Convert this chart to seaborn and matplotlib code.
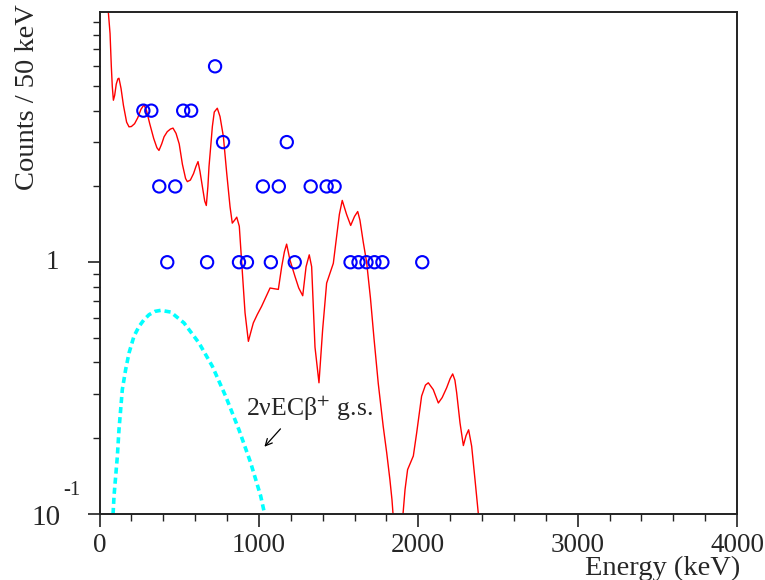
import matplotlib
matplotlib.use("Agg")
import matplotlib.pyplot as plt
import matplotlib.ticker as mticker
import matplotlib.transforms as mtransforms
import numpy as np
import pandas as pd
import seaborn as sns

# Observed events per 50 keV bin
energy_kev = [275, 325, 375, 425, 475, 525, 575, 675, 725, 775, 875, 925, 1025,
              1075, 1125, 1175, 1225, 1325, 1425, 1475, 1575, 1625, 1675, 1725,
              1775, 2025]
counts = [4, 4, 2, 1, 2, 4, 4, 1, 6, 3, 1, 1, 2, 1, 2, 3, 1, 2, 2, 2, 1, 1, 1, 1,
          1, 1]

# Fitted background model
fit_energy = [50, 55, 66, 74, 80, 87, 95, 105, 115, 122, 135, 150, 170, 185, 200,
              220, 240, 260, 279, 295, 315, 340, 360, 373, 390, 405, 425, 445,
              461, 480, 500, 520, 540, 551, 570, 590, 605, 618, 630, 648, 660,
              670, 680, 687, 698, 708, 720, 739, 756, 777, 798, 819, 833, 848,
              861, 877, 892, 913, 934, 948, 965, 990, 1017, 1045, 1070, 1095,
              1122, 1143, 1160, 1174, 1195, 1226, 1250, 1275, 1296, 1316, 1331,
              1352, 1377, 1400, 1425, 1467, 1488, 1505, 1523, 1550, 1576, 1600,
              1620, 1634, 1655, 1676, 1700, 1722, 1749, 1780, 1802, 1822, 1835,
              1850, 1895, 1917, 1933, 1969, 1990, 2021, 2045, 2063, 2094, 2126,
              2150, 2178, 2200, 2216, 2230, 2241, 2262, 2283, 2300, 2316, 2335,
              2356, 2377, 2395]
fit_counts = [11.5, 9.9, 8.1, 6.0, 5.0, 4.4, 4.6, 5.1, 5.35, 5.38, 4.9, 4.2, 3.6,
              3.45, 3.46, 3.55, 3.75, 4.05, 4.22, 4.0, 3.55, 3.1, 2.85, 2.78,
              2.95, 3.15, 3.30, 3.38, 3.41, 3.25, 2.95, 2.45, 2.15, 2.09, 2.12,
              2.25, 2.40, 2.51, 2.3, 1.95, 1.75, 1.68, 2.0, 2.4, 2.9, 3.46, 3.95,
              4.09, 3.79, 3.16, 2.26, 1.66, 1.43, 1.47, 1.51, 1.39, 1.0, 0.63,
              0.485, 0.524, 0.574, 0.62, 0.668, 0.73, 0.79, 0.785, 0.78, 0.96,
              1.1, 1.18, 1.02, 0.88, 0.79, 0.736, 0.96, 1.07, 0.96, 0.46, 0.332,
              0.54, 0.826, 0.99, 1.27, 1.55, 1.76, 1.55, 1.40, 1.52, 1.59, 1.47,
              1.2, 1.0, 0.72, 0.5, 0.33, 0.223, 0.175, 0.137, 0.114, 0.085,
              0.085, 0.125, 0.15, 0.17, 0.21, 0.294, 0.325, 0.332, 0.312, 0.276,
              0.29, 0.317, 0.345, 0.36, 0.34, 0.303, 0.23, 0.187, 0.205, 0.216,
              0.186, 0.137, 0.1, 0.08]

# 2nuECbeta+ ground-state spectrum
ecb_energy = [85, 91, 112, 122, 143, 164, 185, 216, 248, 279, 311, 348, 384, 447,
              530, 624, 708, 792, 875, 948, 1011, 1036]
ecb_counts = [0.1, 0.118, 0.17, 0.216, 0.312, 0.375, 0.436, 0.508, 0.556, 0.591,
              0.619, 0.638, 0.644, 0.634, 0.574, 0.478, 0.386, 0.293, 0.216,
              0.16, 0.118, 0.1]

x_ticks = [0, 1000, 2000, 3000, 4000]
x_tick_labels = ["0", "1000", "2000", "3000", "4000"]

sns.set_theme(style="ticks")
plt.rcParams["font.family"] = ["Liberation Serif", "DejaVu Serif"]
plt.rcParams["mathtext.fontset"] = "stix"

fig = plt.figure(figsize=(7.65, 5.8), dpi=100)
ax = fig.add_axes([0.1301, 0.1138, 0.8333, 0.8655])

data_df = pd.DataFrame({"energy": energy_kev, "counts": counts})
fit_df = pd.DataFrame({"energy": fit_energy, "counts": fit_counts})
ecb_df = pd.DataFrame({"energy": ecb_energy, "counts": ecb_counts})

sns.lineplot(data=fit_df, x="energy", y="counts", color="red", lw=1.0,
             estimator=None, sort=False, ax=ax)
sns.lineplot(data=ecb_df, x="energy", y="counts", color="#00ffff", lw=2.6,
             estimator=None, sort=False, ax=ax, linestyle=(0, (1.7, 1.1)))
sns.scatterplot(data=data_df, x="energy", y="counts", marker="o",
                facecolor="none", edgecolor="blue", linewidth=1.5, s=78,
                ax=ax, zorder=5)

ax.set_yscale("log")
ax.set_xlim(0, 4000)
ax.set_ylim(0.1, 9.86)

ax.set_xticks(x_ticks)
ax.set_xticklabels(x_tick_labels, fontsize=19.5)
ax.xaxis.set_minor_locator(mticker.MultipleLocator(200))
ax.yaxis.set_major_locator(mticker.FixedLocator([0.1, 1]))
ax.yaxis.set_minor_locator(mticker.LogLocator(base=10, subs=np.arange(2, 10)))
ax.yaxis.set_major_formatter(mticker.NullFormatter())
ax.yaxis.set_minor_formatter(mticker.NullFormatter())

ax.tick_params(axis="both", which="major", direction="out", length=9,
               width=1.2, color="#222222", pad=5)
ax.tick_params(axis="both", which="minor", direction="out", length=5,
               width=1.0, color="#222222")
ax.tick_params(top=False, right=False, which="both")

for sp in ax.spines.values():
    sp.set_linewidth(1.4)
    sp.set_color("#222222")

# y tick labels placed by hand
ytrans = mtransforms.blended_transform_factory(ax.transAxes, ax.transData)
ax.text(-0.064, 1.0, "1", transform=ytrans, ha="right", va="center",
        fontsize=19.5)
ax.text(-0.061, 0.0962, "10", transform=ytrans, ha="right", va="center",
        fontsize=21)
ax.text(-0.057, 0.1245, "-1", transform=ytrans, ha="left", va="center",
        fontsize=15)

ax.set_xlabel("Energy (keV)", fontsize=20.5, loc="right")
ax.xaxis.set_label_coords(1.005, -0.083)
ax.set_ylabel("Counts / 50 keV", fontsize=20.5, loc="top")
ax.yaxis.set_label_coords(-0.093, 1.016)

ax.annotate("", xy=(1023, 0.1815), xytext=(1147, 0.222),
            arrowprops=dict(arrowstyle="->", color="black", lw=0.9,
                            mutation_scale=12))
ax.text(917, 0.246, "2νECβ$^{+}$ g.s.", fontsize=18.5, ha="left",
        va="baseline")

fig.savefig("out.png", dpi=100)
